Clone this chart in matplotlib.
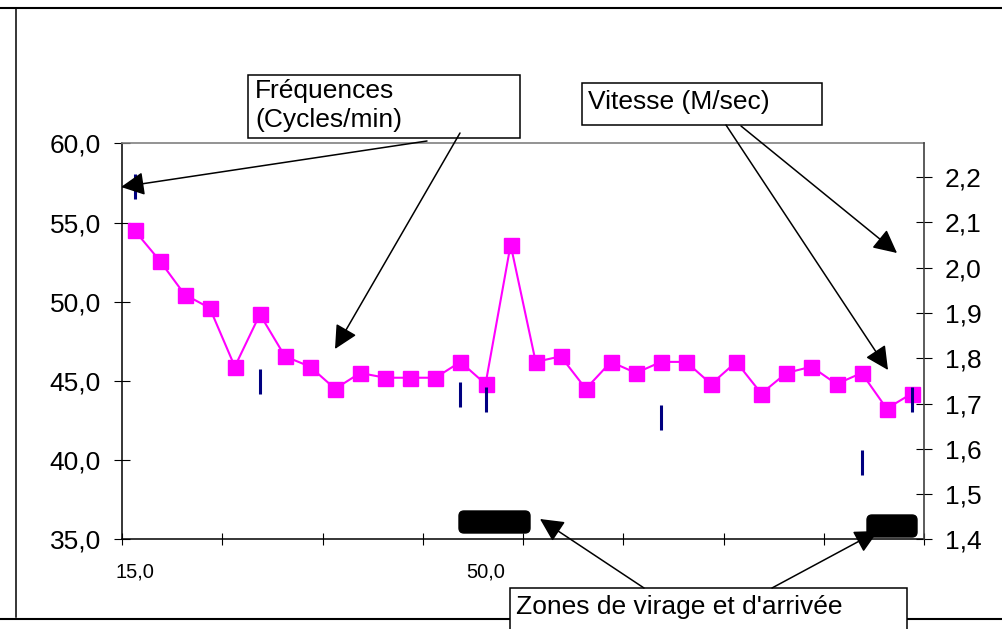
import matplotlib
matplotlib.use("Agg")
import matplotlib.pyplot as plt
from matplotlib.patches import Rectangle, FancyBboxPatch, FancyArrowPatch
from matplotlib.lines import Line2D
from matplotlib.transforms import IdentityTransform
from matplotlib.ticker import FuncFormatter, FixedLocator

plt.rcParams['font.family'] = ['Liberation Sans', 'DejaVu Sans']

W, H = 1003, 629

# ---- data ----
freq = [54.5, 52.6, 50.45, 49.6, 45.9, 49.2, 46.55, 45.9, 44.5, 45.5, 45.2,
        45.2, 45.2, 46.2, 44.8, 53.6, 46.2, 46.55, 44.5, 46.2, 45.5, 46.2,
        46.2, 44.8, 46.2, 44.2, 45.5, 45.9, 44.8, 45.5, 43.25, 44.2]
speed_idx = [0, 5, 13, 14, 21, 29, 31]
speed = [2.18, 1.75, 1.72, 1.71, 1.67, 1.57, 1.71]
x_tick_pos = [0, 14]
x_tick_labels = ["15,0", "50,0"]
left_ticks = [35, 40, 45, 50, 55, 60]
right_ticks = [1.4, 1.5, 1.6, 1.7, 1.8, 1.9, 2.0, 2.1, 2.2]
label_freq = ["Fréquences", "(Cycles/min)"]
label_speed = "Vitesse (M/sec)"
label_zones = "Zones de virage et d'arrivée"

fig = plt.figure(figsize=(W / 100, H / 100), dpi=100)
ax = fig.add_axes([122 / W, (H - 539.3) / H, (924.3 - 122) / W, 396 / H])

xs = list(range(len(freq)))
ax.plot(xs, freq, color='#FF00FF', lw=1.5, marker='s', markersize=10.8,
        markerfacecolor='#FF00FF', markeredgecolor='#FF00FF', zorder=3)
ax.set_xlim(-0.5, len(freq) - 0.5)
ax.set_ylim(35, 60)
ax.yaxis.set_major_locator(FixedLocator(left_ticks))
ax.yaxis.set_major_formatter(FuncFormatter(lambda v, p: f"{v:.1f}".replace('.', ',')))
ax.xaxis.set_major_locator(FixedLocator([i - 0.5 for i in range(0, len(freq) + 1, 4)]))
ax.xaxis.set_minor_locator(FixedLocator(x_tick_pos))
ax.set_xticks(x_tick_pos, x_tick_labels, minor=True)
ax.tick_params(axis='y', direction='inout', length=11.5, width=0.8, pad=9.4,
               labelsize=19, colors='black')
ax.tick_params(axis='x', which='major', direction='inout', length=8.9, width=0.8,
               labelbottom=False)
ax.tick_params(axis='x', which='minor', length=0, labelsize=14.5, pad=17)
ax.spines['top'].set_color('#808080')
ax.spines['top'].set_linewidth(1.2)
ax.spines['left'].set_linewidth(1.1)
ax.spines['bottom'].set_linewidth(1.1)
ax.spines['right'].set_visible(False)

ax2 = ax.twinx()
ax2.plot(speed_idx, speed, linestyle='none', marker='|', markersize=18,
         markeredgewidth=2.2, color='#000080', zorder=4)
ax2.set_ylim(1.4, 2.275)
ax2.yaxis.set_major_locator(FixedLocator(right_ticks))
ax2.yaxis.set_major_formatter(FuncFormatter(lambda v, p: f"{v:.1f}".replace('.', ',')))
ax2.tick_params(axis='y', direction='inout', length=12, width=0.8, pad=8.9,
                labelsize=19)
for s in ['top', 'left', 'bottom']:
    ax2.spines[s].set_visible(False)
ax2.spines['right'].set_color('#404040')
ax2.spines['right'].set_linewidth(1.2)

T = IdentityTransform()


def P(x, y):
    return (x, H - y)


# outer frame
for (x0, y0, x1, y1, lw) in [(0, 8, W, 8, 1.5), (16, 8, 16, 617, 1.1), (0, 619, W, 619, 1.5)]:
    a, b = P(x0, y0)
    c, d = P(x1, y1)
    fig.add_artist(Line2D([a, c], [b, d], transform=T, color='black', lw=lw, zorder=1))


def textbox(x0, y0, x1, y1):
    fig.add_artist(Rectangle(P(x0, y1), x1 - x0, y1 - y0, transform=T,
                             facecolor='white', edgecolor='black', lw=1.1, zorder=5))


def arrow(x0, y0, x1, y1):
    fig.add_artist(FancyArrowPatch(P(x0, y0), P(x1, y1), transform=T,
                                   arrowstyle='-|>,head_length=1.0,head_width=0.5',
                                   mutation_scale=14.4, color='black', lw=1.1,
                                   shrinkA=0, shrinkB=0, zorder=7))


def blackbox(x0, y0, x1, y1):
    fig.add_artist(FancyBboxPatch(P(x0, y1), x1 - x0, y1 - y0, transform=T,
                                  boxstyle='round,pad=0,rounding_size=5',
                                  facecolor='black', edgecolor='black', zorder=6))


def txt(x, y, s):
    fig.text(x / W, 1 - y / H, s, fontsize=19, ha='left', va='baseline', zorder=8)


textbox(248, 75, 520, 138)
txt(255, 98.3, label_freq[0])
txt(255, 127.5, label_freq[1])
arrow(427, 141, 121, 187)
arrow(460, 133, 335, 349)

textbox(582, 83, 822, 125)
txt(588, 109.3, label_speed)
arrow(741, 126, 897, 253)
arrow(726, 125, 888, 370)

blackbox(459, 511, 530, 533)
blackbox(867, 515, 917, 537)

textbox(510, 588, 907, 650)
txt(516, 614, label_zones)
arrow(644, 588, 540, 519)
arrow(772, 588, 878, 531)

fig.savefig('out.png', dpi=100)
